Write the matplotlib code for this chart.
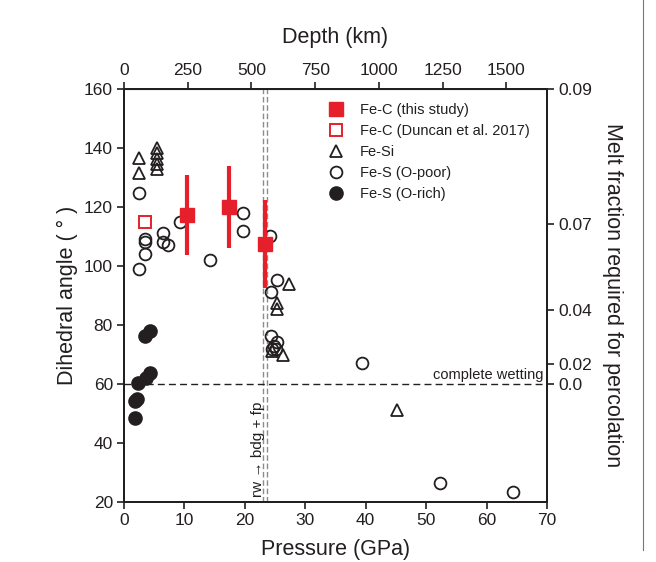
import matplotlib
matplotlib.use("Agg")
import matplotlib.pyplot as plt
from matplotlib.lines import Line2D

plt.rcParams['font.family'] = ['Liberation Sans', 'DejaVu Sans']
TXT = '#231f20'
RED = '#e5202a'

# ---- data (pressure GPa, dihedral angle deg) ----
fec_p = [10.4, 17.4, 23.3]
fec_a = [117.3, 120.0, 107.4]
fec_err = [13.5, 14.0, 15.0]

duncan_p = [3.4]
duncan_a = [115.0]

fesi_p = [2.4, 2.4, 5.4, 5.4, 5.4, 5.4, 5.4, 27.3, 25.4, 25.4, 26.3, 24.5, 45.1]
fesi_a = [136.5, 131.4, 140.0, 138.2, 136.4, 134.6, 133.0, 93.9, 87.6, 85.4, 69.8, 71.3, 51.2]

fespoor_p = [2.4, 2.4, 3.4, 3.4, 3.4, 6.5, 6.5, 7.2, 9.2, 14.2, 19.75, 19.75, 24.1,
             25.3, 24.3, 24.3, 25.4, 24.5, 25.2, 24.8, 39.4, 52.3, 64.3]
fespoor_a = [124.9, 99.0, 109.2, 108.0, 104.0, 111.1, 108.0, 107.1, 115.0, 102.0, 117.9, 112.0, 110.3,
             95.3, 91.3, 76.3, 74.3, 71.9, 71.8, 73.0, 67.2, 26.5, 23.5]

fesrich_p = [4.3, 3.5, 4.3, 3.6, 2.3, 2.2, 1.8, 1.8]
fesrich_a = [78.1, 76.3, 63.6, 61.9, 60.4, 54.8, 54.3, 48.4]

boundary_p = [23.0, 23.7]
wetting_angle = 60

depth_ticks = [0, 250, 500, 750, 1000, 1250, 1500]
km_per_gpa = 23.7

melt_tick_angles = [160, 114.2, 85.1, 66.8, 60]
melt_tick_labels = ['0.09', '0.07', '0.04', '0.02', '0.0']

fig = plt.figure(figsize=(6.56, 5.62), dpi=100)
ax = fig.add_axes([124/656, 1-502/562, 423/656, 413/562])

ax.set_xlim(0, 70)
ax.set_ylim(20, 160)

for bp in boundary_p:
    ax.axvline(bp, color='#8c8c8c', ls=(0, (4, 2)), lw=1.0, zorder=1)
ax.axhline(wetting_angle, color=TXT, ls=(0, (5, 3)), lw=1.0, zorder=1)

ax.plot(fespoor_p, fespoor_a, 'o', ms=8.5, mfc='none', mec=TXT, mew=1.3, ls='none', zorder=3)
ax.plot(fesi_p, fesi_a, '^', ms=9, mfc='none', mec=TXT, mew=1.3, ls='none', zorder=3)
ax.plot(fesrich_p, fesrich_a, 'o', ms=9.5, mfc=TXT, mec=TXT, ls='none', zorder=3)
ax.plot(duncan_p, duncan_a, 's', ms=8.5, mfc='none', mec=RED, mew=1.4, ls='none', zorder=3)
ax.errorbar(fec_p, fec_a, yerr=fec_err, fmt='s', ms=10, color=RED, mfc=RED, mec=RED,
            elinewidth=3, capsize=0, zorder=4)

ax.text(69.4, 60.7, 'complete wetting', ha='right', va='bottom', fontsize=10.5, color=TXT)
ax.text(22.1, 21.8, 'rw \u2192 bdg + fp', rotation=90, ha='center', va='bottom', fontsize=11, color=TXT)

handles = [
    Line2D([], [], marker='s', ms=10, color=RED, mfc=RED, mec=RED, ls='none'),
    Line2D([], [], marker='s', ms=8.5, mfc='none', mec=RED, mew=1.4, ls='none'),
    Line2D([], [], marker='^', ms=9, mfc='none', mec=TXT, mew=1.3, ls='none'),
    Line2D([], [], marker='o', ms=8.5, mfc='none', mec=TXT, mew=1.3, ls='none'),
    Line2D([], [], marker='o', ms=9.5, mfc=TXT, mec=TXT, ls='none'),
]
labels = ['Fe-C (this study)', 'Fe-C (Duncan et al. 2017)', 'Fe-Si', 'Fe-S (O-poor)', 'Fe-S (O-rich)']
leg = ax.legend(handles, labels, loc='upper left', bbox_to_anchor=(0.485, 0.967), frameon=False,
                borderaxespad=0, borderpad=0, handlelength=1.0, handletextpad=1.1,
                labelspacing=0.48, fontsize=10.5)
for t in leg.get_texts():
    t.set_color(TXT)

ax.set_xticks(range(0, 71, 10))
ax.set_yticks(range(20, 161, 20))
ax.tick_params(direction='out', length=5, width=1.2, labelsize=12.5, colors=TXT, pad=3)
for s in ax.spines.values():
    s.set_linewidth(1.4)
    s.set_color(TXT)
ax.set_xlabel('Pressure (GPa)', fontsize=15.5, color=TXT, labelpad=8)
ax.set_ylabel('Dihedral angle ( \u00b0 )', fontsize=15.5, color=TXT, labelpad=4)

sec = ax.secondary_xaxis('top', functions=(lambda p: p*km_per_gpa, lambda d: d/km_per_gpa))
sec.set_xticks(depth_ticks)
sec.tick_params(direction='out', length=5, width=1.2, labelsize=12.5, colors=TXT, pad=3)
sec.set_xlabel('Depth (km)', fontsize=15.5, color=TXT, labelpad=14)

ax2 = ax.twinx()
ax2.set_ylim(20, 160)
ax2.set_yticks(melt_tick_angles)
ax2.set_yticklabels(melt_tick_labels)
ax2.tick_params(direction='out', length=5, width=1.2, labelsize=12.5, colors=TXT, pad=3)
for s in ax2.spines.values():
    s.set_linewidth(1.4)
    s.set_color(TXT)
ax2.set_ylabel('Melt fraction required for percolation', fontsize=15.5, color=TXT,
               rotation=270, labelpad=22)

# panel frame line
fig.add_artist(Line2D([643/656, 643/656], [1-550/562, 1.0], transform=fig.transFigure,
                      color='#777777', lw=0.8))

fig.savefig('out.png', dpi=100)
